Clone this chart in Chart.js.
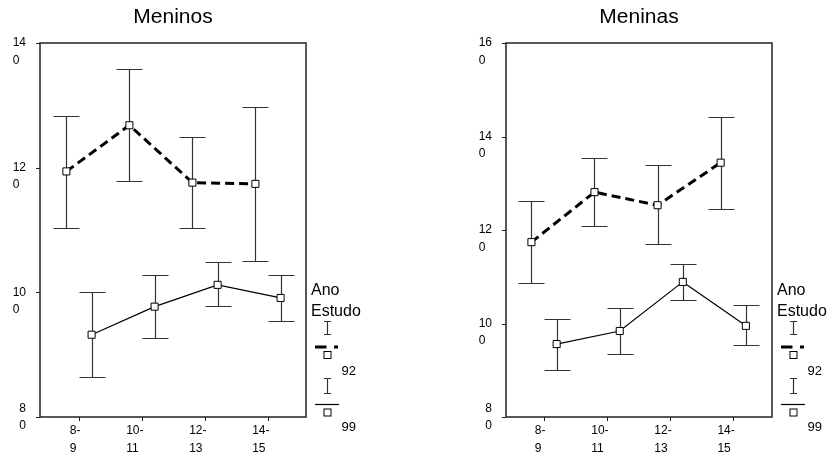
<!DOCTYPE html>
<html><head><meta charset="utf-8">
<script src="https://cdn.jsdelivr.net/npm/chart.js@4.4.0/dist/chart.umd.min.js"></script>
<style>
html,body{margin:0;padding:0;background:#fff;}
#wrap{position:relative;width:827px;height:457px;overflow:hidden;}
canvas{position:absolute;top:0;}
</style></head><body>
<div id="wrap">
<canvas id="c1" width="413" height="457" style="left:0;width:413px;height:457px"></canvas>
<canvas id="c2" width="414" height="457" style="left:413px;width:414px;height:457px"></canvas>
</div>
<script>
// ---- data ----
const categories = [["8-","9"],["10-","11"],["12-","13"],["14-","15"]];
const seriesNames = ["92","99"];
const legendTitle = ["Ano","Estudo"];
// Meninos
const boysMean92 = [119.4,126.8,117.6,117.4];
const boysLow92  = [110.4,117.9,110.4,105.1];
const boysHigh92 = [128.3,135.8,125.0,129.7];
const boysMean99 = [93.2,97.7,101.2,99.1];
const boysLow99  = [86.4,92.7,97.8,95.4];
const boysHigh99 = [100.0,102.8,104.9,102.8];
// Meninas
const girlsMean92 = [117.4,128.1,125.3,134.4];
const girlsLow92  = [108.6,120.8,117.0,124.5];
const girlsHigh92 = [126.3,135.5,133.8,144.2];
const girlsMean99 = [95.6,98.4,108.9,99.5];
const girlsLow99  = [90.1,93.5,105.0,95.4];
const girlsHigh99 = [101.0,103.3,112.8,103.9];
// tick labels
const boysYTicks = [80,100,120,140];
const boysYTickLabels = [["8","0"],["10","0"],["12","0"],["14","0"]];
const girlsYTicks = [80,100,120,140,160];
const girlsYTickLabels = [["8","0"],["10","0"],["12","0"],["14","0"],["16","0"]];

const FONT = '"Liberation Sans", Arial, sans-serif';
const OFF92 = -0.2, OFF99 = 0.2;

function drawBlock(ctx, lines, rightX, firstY, lh){
  let w = 0; lines.forEach(l=>{ w=Math.max(w, ctx.measureText(l).width); });
  const left = rightX - w;
  lines.forEach((l,i)=>ctx.fillText(l, left, firstY + i*lh));
}

const customPlugin = {
  id:'custom',
  beforeDatasetsDraw(chart){
    const {ctx, scales:{x,y}} = chart;
    const cfg = chart.options.plugins.custom;
    ctx.save();
    ctx.strokeStyle='#333'; ctx.lineWidth=1.2;
    cfg.bars.forEach(b=>{
      b.low.forEach((lo,i)=>{
        const px = Math.round(x.getPixelForValue(i+1+b.off))+0.5;
        const yl = Math.round(y.getPixelForValue(lo))+0.5;
        const yh = Math.round(y.getPixelForValue(b.high[i]))+0.5;
        ctx.beginPath();
        ctx.moveTo(px,yl); ctx.lineTo(px,yh);
        ctx.moveTo(px-13,yl); ctx.lineTo(px+13,yl);
        ctx.moveTo(px-13,yh); ctx.lineTo(px+13,yh);
        ctx.stroke();
      });
    });
    ctx.restore();
  },
  afterDraw(chart){
    const {ctx, chartArea:a, scales:{x,y}} = chart;
    const cfg = chart.options.plugins.custom;
    ctx.save();
    // box
    ctx.strokeStyle='#222'; ctx.lineWidth=1.5;
    ctx.strokeRect(a.left, a.top, a.right-a.left, a.bottom-a.top);
    // y ticks
    ctx.fillStyle='#000';
    ctx.font='12px '+FONT; ctx.textBaseline='middle'; ctx.textAlign='left';
    ctx.lineWidth=1;
    cfg.yTicks.forEach((v,i)=>{
      const py = y.getPixelForValue(v);
      ctx.beginPath(); ctx.moveTo(a.left-4, Math.round(py)+0.5); ctx.lineTo(a.left, Math.round(py)+0.5); ctx.stroke();
      const lines = cfg.yLabels[i];
      const lh = 17.5;
      const first = (v===y.min) ? py - lh/2 : py;
      drawBlock(ctx, lines, a.left-14, first, lh);
    });
    // x ticks
    categories.forEach((c,i)=>{
      const px = x.getPixelForValue(i+1);
      ctx.beginPath(); ctx.moveTo(Math.round(px)+0.5, a.bottom); ctx.lineTo(Math.round(px)+0.5, a.bottom+4); ctx.stroke();
      drawBlock(ctx, c, px+1.5, a.bottom+14, 17.3);
    });
    // title
    ctx.font='21px '+FONT; ctx.textAlign='center';
    ctx.fillText(cfg.title, (a.left+a.right)/2, 17);
    // legend
    const x0 = a.right+5;
    ctx.textAlign='left';
    ctx.font='16px '+FONT;
    ctx.fillText(legendTitle[0], x0, 291);
    ctx.fillText(legendTitle[1], x0, 312);
    const cx = Math.round(x0+15.5)+0.5;
    function eIcon(t,b){
      ctx.strokeStyle='#333'; ctx.lineWidth=1.2;
      ctx.beginPath();
      ctx.moveTo(cx,t); ctx.lineTo(cx,b);
      ctx.moveTo(cx-3.5,t); ctx.lineTo(cx+3.5,t);
      ctx.moveTo(cx-3.5,b); ctx.lineTo(cx+3.5,b);
      ctx.stroke();
    }
    function sq(cy){
      ctx.fillStyle='#fff'; ctx.strokeStyle='#000'; ctx.lineWidth=1;
      ctx.fillRect(cx-3.5,cy-3.5,7,7); ctx.strokeRect(cx-3.5,cy-3.5,7,7);
    }
    eIcon(321.5,334.5);
    ctx.strokeStyle='#000'; ctx.lineWidth=3;
    ctx.beginPath(); ctx.moveTo(x0+4,347); ctx.lineTo(x0+15.5,347);
    ctx.moveTo(x0+23,347); ctx.lineTo(x0+27,347); ctx.stroke();
    sq(355);
    ctx.fillStyle='#000'; ctx.font='13px '+FONT;
    ctx.fillText(seriesNames[0], x0+30.5, 371);
    eIcon(378.5,393.5);
    ctx.strokeStyle='#000'; ctx.lineWidth=1.2;
    ctx.beginPath(); ctx.moveTo(x0+4,404.5); ctx.lineTo(x0+28,404.5); ctx.stroke();
    sq(412.5);
    ctx.fillStyle='#000'; ctx.font='13px '+FONT;
    ctx.fillText(seriesNames[1], x0+30.5, 427.5);
    ctx.restore();
  }
};

function pts(arr, off){ return arr.map((v,i)=>({x:i+1+off, y:v})); }

function makeChart(id, title, m92,l92,h92,m99,l99,h99, yMax, yTicks, yLabels, pad, xMin, xMax){
  return new Chart(document.getElementById(id), {
    type:'line',
    data:{ datasets:[
      { label:seriesNames[0], data:pts(m92,OFF92), borderColor:'#000', borderWidth:3, borderDash:[9,5],
        pointStyle:'rect', pointRadius:5, pointBackgroundColor:'#fff', pointBorderColor:'#000', pointBorderWidth:1,
        fill:false, tension:0, order:1 },
      { label:seriesNames[1], data:pts(m99,OFF99), borderColor:'#000', borderWidth:1.2,
        pointStyle:'rect', pointRadius:5, pointBackgroundColor:'#fff', pointBorderColor:'#000', pointBorderWidth:1,
        fill:false, tension:0, order:2 }
    ]},
    options:{
      responsive:false, animation:false, devicePixelRatio:1,
      layout:{padding:pad},
      scales:{
        x:{type:'linear', min:xMin, max:xMax, display:false},
        y:{type:'linear', min:80, max:yMax, display:false}
      },
      plugins:{
        legend:{display:false}, tooltip:{enabled:false},
        custom:{ title, yTicks, yLabels, bars:[{low:l92,high:h92,off:OFF92},{low:l99,high:h99,off:OFF99}] }
      },
      elements:{line:{clip:false}},
    },
    plugins:[customPlugin]
  });
}

makeChart('c1','Meninos', boysMean92,boysLow92,boysHigh92, boysMean99,boysLow99,boysHigh99,
  140, boysYTicks, boysYTickLabels, {left:40, top:43, right:107, bottom:40}, 0.381, 4.603);
makeChart('c2','Meninas', girlsMean92,girlsLow92,girlsHigh92, girlsMean99,girlsLow99,girlsHigh99,
  160, girlsYTicks, girlsYTickLabels, {left:93, top:43, right:55, bottom:40}, 0.397, 4.614);
</script>
</body></html>
